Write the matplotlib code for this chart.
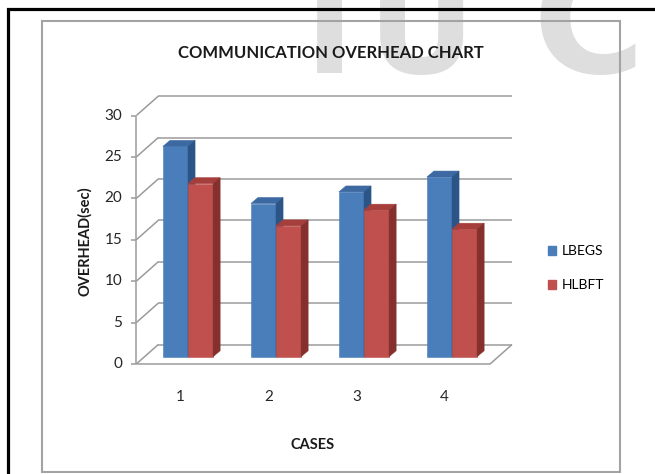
import matplotlib
matplotlib.use('Agg')
import matplotlib.pyplot as plt
from matplotlib.patches import Polygon, Rectangle
from matplotlib.lines import Line2D

# Communication overhead per case, in seconds
cases = ['1', '2', '3', '4']
lbegs = [25.4, 18.5, 19.9, 21.7]
hlbft = [20.9, 15.8, 17.7, 15.4]
y_ticks = [0, 5, 10, 15, 20, 25, 30]
series_names = ['LBEGS', 'HLBFT']

W, H = 655, 474
FONT = 'Lato'

# face / top / side shades for the pseudo 3d columns
BLUE = ('#4a7ebb', '#3d69a3', '#2c5587')
RED = ('#c0504d', '#a63f3c', '#86302e')
GRID = '#9b9b9b'

# depth offsets (data units) of the front floor edge, back wall and a column
FRONT = (-0.0875, -0.88)
BACK = (0.1625, 1.47)
DEPTH = (0.08, 0.72)
X_LEFT, X_RIGHT = 0.5, 4.52
BAR_W = 0.285


def fx(px):
    return px / W


def fy(py):
    return 1 - py / H


fig = plt.figure(figsize=(W / 100, H / 100), dpi=100)
fig.patch.set_facecolor('white')

# faint watermark letters behind everything
for letter, left, size in [('I', 305, 95), ('U', 368, 95), ('C', 532, 110)]:
    fig.text(fx(left), fy(73), letter, fontsize=size, fontweight='bold',
             family='DejaVu Sans', color='#dedede', ha='left', va='baseline', zorder=-2)

# page frame and chart border
fig.add_artist(Line2D([fx(8), fx(8), 1.0], [0, fy(8.5), fy(8.5)], color='black',
                      lw=2.3, solid_joinstyle='miter', transform=fig.transFigure, zorder=1))
fig.add_artist(Rectangle((fx(42), fy(472)), fx(620) - fx(42), fy(21) - fy(472),
                         transform=fig.transFigure, fill=False, edgecolor='#a3a3a3',
                         lw=1.5, zorder=1))

# plot area: 88 px per case, 8.28 px per second
ax = fig.add_axes([fx(100), fy(380), fx(530) - fx(100), fy(90) - fy(380)])
ax.set_xlim(0, 430 / 88)
ax.set_ylim(-(380 - 356.7) / 8.28, (356.7 - 90) / 8.28)
ax.axis('off')

grid_kw = dict(color=GRID, lw=1.1, solid_capstyle='butt', zorder=1)
x_front = X_LEFT + FRONT[0]
for v in y_ticks:
    # back wall gridline and left wall diagonal
    ax.plot([X_LEFT + BACK[0], X_RIGHT + BACK[0]], [v + BACK[1]] * 2, **grid_kw)
    ax.plot([x_front, X_LEFT + BACK[0]], [v + FRONT[1], v + BACK[1]], **grid_kw)
    # tick mark and label on the front axis
    ax.plot([x_front - 0.06, x_front], [v + FRONT[1]] * 2, **grid_kw)
    ax.text(x_front - 0.16, v + FRONT[1], str(v), ha='right', va='center',
            fontsize=11, family=FONT, color='#262626')

# front vertical axis and floor edges
ax.plot([x_front, x_front], [FRONT[1], y_ticks[-1] + FRONT[1]], **grid_kw)
ax.plot([x_front, X_RIGHT + FRONT[0], X_RIGHT + BACK[0]],
        [FRONT[1], FRONT[1], BACK[1]], **grid_kw)


def draw_column(x0, h, shades):
    face, top, side = shades
    dx, dy = DEPTH
    ax.bar(x0, h, width=BAR_W, align='edge', color=face, edgecolor=face, lw=0.4, zorder=3)
    ax.add_patch(Polygon([(x0, h), (x0 + BAR_W, h), (x0 + BAR_W + dx, h + dy), (x0 + dx, h + dy)],
                         closed=True, facecolor=top, edgecolor=top, lw=0.4, zorder=3))
    ax.add_patch(Polygon([(x0 + BAR_W, 0), (x0 + BAR_W + dx, dy), (x0 + BAR_W + dx, h + dy),
                          (x0 + BAR_W, h)], closed=True, facecolor=side, edgecolor=side,
                         lw=0.4, zorder=3))


for i, (b, r) in enumerate(zip(lbegs, hlbft)):
    c = i + 1
    draw_column(c - BAR_W, b, BLUE)
    draw_column(c, r, RED)
    ax.text(c + FRONT[0], FRONT[1] - 4.0, cases[i], ha='center', va='center',
            fontsize=11, family=FONT, color='#262626')

# titles
fig.text(fx(331), fy(52.5), 'COMMUNICATION OVERHEAD CHART', ha='center', va='center',
         fontsize=12, fontweight='bold', family=FONT, color='#1a1a1a', zorder=5)
fig.text(fx(312.5), fy(445), 'CASES', ha='center', va='center',
         fontsize=10.5, fontweight='bold', family=FONT, color='#1a1a1a')
fig.text(fx(85), fy(241), 'OVERHEAD(sec)', ha='center', va='center', rotation=90,
         fontsize=10.5, fontweight='bold', family=FONT, color='#1a1a1a')

# legend
handles = [Rectangle((0, 0), 1, 1, color=BLUE[0]), Rectangle((0, 0), 1, 1, color=RED[0])]
fig.legend(handles, series_names, loc='upper left', bbox_to_anchor=(fx(548), fy(245)),
           frameon=False, prop={'family': FONT, 'size': 10}, handlelength=0.6,
           handleheight=0.6, handletextpad=0.4, labelspacing=1.6, borderpad=0,
           borderaxespad=0)

fig.savefig('out.png', dpi=100)
